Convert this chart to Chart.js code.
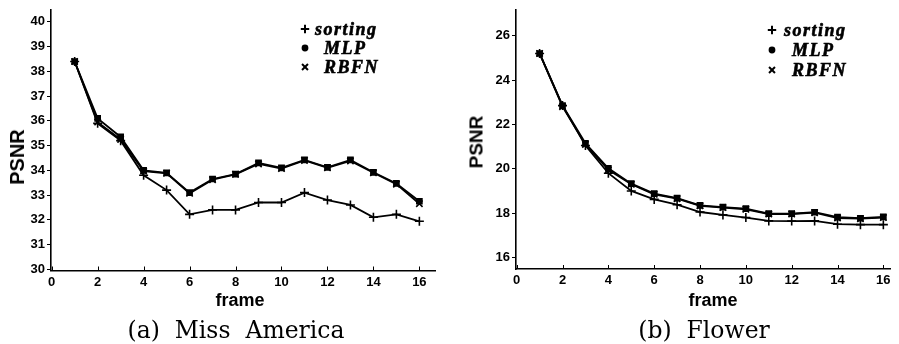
<!DOCTYPE html>
<html>
<head>
<meta charset="utf-8">
<script src="https://cdn.jsdelivr.net/npm/chart.js@4.4.1/dist/chart.umd.min.js"></script>
<style>
  html, body { margin: 0; padding: 0; background: #fff; }
  #wrap { position: relative; width: 899px; height: 344px; overflow: hidden; background: #fff; }
  .cv { position: absolute; top: 0; }
  .txt { position: absolute; white-space: nowrap; color: #000; line-height: 1; transform: translate(-50%, -50%); }
  .ax { font-family: "Liberation Sans", Arial, sans-serif; font-weight: bold; }
  .cap { font-family: "DejaVu Serif", serif; font-size: 23.5px; }
</style>
</head>
<body>
<div id="wrap">
  <div class="cv" style="left:0;width:450px;height:344px;"><canvas id="cA"></canvas></div>
  <div class="cv" style="left:450px;width:449px;height:344px;"><canvas id="cB"></canvas></div>
  <div class="txt ax" style="left:17px;top:157px;font-size:20px;transform:translate(-50%,-50%) rotate(-90deg);">PSNR</div>
  <div class="txt ax" style="left:240px;top:300px;font-size:18px;">frame</div>
  <div class="txt cap" style="left:236px;top:331px;">(a)&nbsp; Miss&nbsp; America</div>
  <div class="txt ax" style="left:476px;top:142px;font-size:19px;transform:translate(-50%,-50%) rotate(-90deg);">PSNR</div>
  <div class="txt ax" style="left:713px;top:300px;font-size:18px;">frame</div>
  <div class="txt cap" style="left:704px;top:331px;">(b)&nbsp; Flower</div>
</div>
<script>
// ---- data ----
const frames = [1,2,3,4,5,6,7,8,9,10,11,12,13,14,15,16];
const seriesNames = ["sorting", "MLP", "RBFN"];
// (a) Miss America
const sortingA = [38.4, 35.9, 35.2, 33.8, 33.2, 32.22, 32.4, 32.4, 32.7, 32.7, 33.1, 32.8, 32.6, 32.1, 32.22, 31.94];
const mlpA     = [38.4, 36.1, 35.35, 34.0, 33.9, 33.1, 33.65, 33.85, 34.3, 34.1, 34.42, 34.12, 34.42, 33.92, 33.47, 32.75];
const rbfnA    = [38.4, 35.95, 35.25, 33.97, 33.88, 33.07, 33.62, 33.84, 34.26, 34.07, 34.4, 34.1, 34.38, 33.9, 33.44, 32.65];
// (b) Flower
const sortingB = [25.2, 22.85, 21.05, 19.8, 19.0, 18.62, 18.38, 18.05, 17.92, 17.8, 17.65, 17.64, 17.65, 17.5, 17.48, 17.48];
const mlpB     = [25.2, 22.85, 21.15, 20.02, 19.33, 18.88, 18.68, 18.35, 18.27, 18.2, 17.98, 17.98, 18.04, 17.82, 17.77, 17.83];
const rbfnB    = [25.2, 22.8, 21.1, 19.95, 19.3, 18.85, 18.65, 18.33, 18.25, 18.17, 17.96, 17.96, 18.02, 17.78, 17.75, 17.8];
// tick labels
const xTicks  = [0, 2, 4, 6, 8, 10, 12, 14, 16];
const yTicksA = [30, 31, 32, 33, 34, 35, 36, 37, 38, 39, 40];
const yTicksB = [16, 18, 20, 22, 24, 26];

const styles = [
  { pointStyle: 'cross', radius: 4.5 },
  { pointStyle: 'rect', radius: 3.6 },
  { pointStyle: 'crossRot', radius: 4.5 }
];

function makeDatasets(arrs) {
  return arrs.map((arr, i) => ({
    label: seriesNames[i],
    data: frames.map((f, k) => ({ x: f, y: arr[k] })),
    borderColor: '#000',
    backgroundColor: '#000',
    borderWidth: 1.8,
    pointStyle: styles[i].pointStyle,
    pointRadius: styles[i].radius,
    pointBorderWidth: 1.6,
    pointBackgroundColor: '#000',
    pointBorderColor: '#000',
    tension: 0,
    fill: false
  }));
}

const inwardTicks = {
  id: 'inwardTicks',
  afterDraw(chart) {
    const ctx = chart.ctx, xs = chart.scales.x, a = chart.chartArea;
    ctx.save();
    ctx.strokeStyle = '#000';
    ctx.lineWidth = 1;
    xTicks.forEach(v => {
      const px = Math.round(xs.getPixelForValue(v)) + 0.5;
      ctx.beginPath();
      ctx.moveTo(px, a.bottom);
      ctx.lineTo(px, a.bottom - 4);
      ctx.stroke();
    });
    ctx.restore();
  }
};

const legendPlugin = {
  id: 'innerLegend',
  afterDraw(chart, args, opts) {
    const ctx = chart.ctx;
    ctx.save();
    chart.data.datasets.forEach((ds, i) => {
      const y = opts.y0 + i * opts.dy;
      ctx.fillStyle = '#000';
      ctx.strokeStyle = '#000';
      ctx.lineWidth = 2;
      Chart.helpers.drawPoint(ctx, {
        pointStyle: i === 1 ? 'circle' : ds.pointStyle,
        radius: i === 1 ? 2.4 : 4.2,
        borderWidth: 2,
        rotation: 0
      }, opts.mx, y);
      ctx.lineWidth = 0.6;
      ctx.font = 'italic bold 18px "Liberation Serif", "Times New Roman", serif';
      ctx.letterSpacing = '1.5px';
      ctx.textBaseline = 'middle';
      ctx.textAlign = 'left';
      ctx.fillText(ds.label, opts.tx[i], y + 1);
      ctx.strokeText(ds.label, opts.tx[i], y + 1);
    });
    ctx.restore();
  }
};

function makeChart(id, arrs, cfg) {
  const tickFont = { family: '"Liberation Sans", Arial, sans-serif', weight: 'bold', size: 13 };
  return new Chart(document.getElementById(id), {
    type: 'line',
    data: { datasets: makeDatasets(arrs) },
    plugins: [inwardTicks, legendPlugin],
    options: {
      responsive: true,
      maintainAspectRatio: false,
      animation: false,
      events: [],
      layout: { padding: { left: 0, top: cfg.top, right: cfg.right, bottom: 0 } },
      plugins: {
        legend: { display: false },
        tooltip: { enabled: false },
        innerLegend: cfg.legend
      },
      scales: {
        x: {
          type: 'linear',
          min: cfg.xmin, max: cfg.xmax,
          afterBuildTicks: s => { s.ticks = xTicks.map(v => ({ value: v })); },
          afterFit: s => { s.height = cfg.xh; },
          grid: { display: true, drawOnChartArea: false, drawTicks: false },
          border: { display: true, color: '#000', width: 1.6 },
          ticks: { color: '#000', font: tickFont, padding: 4, maxRotation: 0, autoSkip: false }
        },
        y: {
          type: 'linear',
          min: cfg.ymin, max: cfg.ymax,
          afterBuildTicks: s => { s.ticks = cfg.yTicks.map(v => ({ value: v })); },
          afterFit: s => { s.width = cfg.yw; },
          grid: { display: true, drawOnChartArea: false, drawTicks: true, tickLength: 4, color: '#000', tickWidth: 1 },
          border: { display: true, color: '#000', width: 1.6 },
          ticks: { color: '#000', font: tickFont, padding: 2, autoSkip: false }
        }
      }
    }
  });
}

makeChart('cA', [sortingA, mlpA, rbfnA], {
  top: 5, right: 15, xh: 73.5, yw: 51,
  xmin: -0.03, xmax: 16.68, ymin: 29.95, ymax: 40.49, yTicks: yTicksA,
  legend: { mx: 305, y0: 29, dy: 19, tx: [315, 324, 324] }
});
makeChart('cB', [sortingB, mlpB, rbfnB], {
  top: 7, right: 9, xh: 75, yw: 66,
  xmin: -0.03, xmax: 16.29, ymin: 15.48, ymax: 27.17, yTicks: yTicksB,
  legend: { mx: 322, y0: 30, dy: 20, tx: [334, 342, 342] }
});
</script>
</body>
</html>
